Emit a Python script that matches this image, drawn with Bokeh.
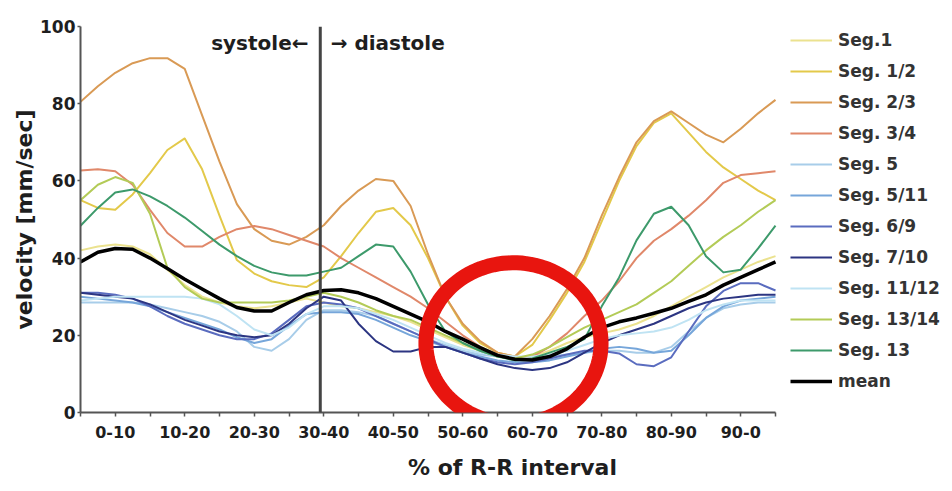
import numpy as np
from bokeh.plotting import figure
from bokeh.models import (Range1d, FixedTicker, Legend, LegendItem, Span, Label,
                          PolyAnnotation)
from bokeh.embed import file_html
from bokeh.resources import INLINE

# ---------------- data ----------------
rr_percent = [0, 2.5, 5, 7.5, 10, 12.5, 15, 17.5, 20, 22.5, 25, 27.5, 30, 32.5, 35, 37.5,
              40, 42.5, 45, 47.5, 50, 52.5, 55, 57.5, 60, 62.5, 65, 67.5, 70, 72.5, 75,
              77.5, 80, 82.5, 85, 87.5, 90, 92.5, 95, 97.5, 100]

interval_labels = ["0-10", "10-20", "20-30", "30-40", "40-50", "50-60", "60-70",
                   "70-80", "80-90", "90-0"]
velocity_ticks = [0, 20, 40, 60, 80, 100]
systole_end = 34.5

seg_1 = [42, 43, 43.5, 43, 41, 37, 33, 30, 28.5, 27.5, 27, 27.5, 28.5, 29.5, 28.5, 27.5,
         27, 26, 25, 23.5, 21.5, 19.5, 17.5, 16, 14.5, 14, 14.5, 16, 18, 19.5, 20.5,
         21.5, 23, 25, 27.5, 30, 32.5, 35, 37, 39, 40.5]
seg_1_2 = [55, 53, 52.5, 56.5, 62, 68, 71, 63, 51, 39.5, 36, 34, 33, 32.5, 35, 40.5,
           46.5, 52, 53, 48.5, 40, 30, 22.5, 18, 15.5, 14.5, 17.5, 24, 31, 39, 49.5,
           60, 69, 75, 77.5, 72.5, 67.5, 63.5, 60.5, 57.5, 55]
seg_2_3 = [80.5, 84.5, 88, 90.5, 91.8, 91.8, 89, 77, 65, 54, 47.5, 44.5, 43.5, 45.5, 48.5,
           53.5, 57.5, 60.5, 60, 53.5, 41, 30, 23, 18.5, 15.5, 14.5, 19, 25, 32, 40, 51,
           61, 70, 75.5, 78, 75, 72, 70, 73.5, 77.5, 81]
seg_3_4 = [62.7, 63, 62.5, 59, 52.5, 46.5, 43, 43, 45.5, 47.5, 48.3, 47.5, 46, 44.5, 43,
           40, 37.5, 35, 32.5, 30, 27, 23.5, 20, 17, 15, 14, 14.5, 17, 20.5, 25, 29, 34,
           40, 44.5, 47.5, 51, 55, 59.5, 61.5, 62, 62.5]
seg_5 = [28.5, 28.5, 28.5, 28.5, 28, 27, 26, 25, 23.5, 21, 17, 16, 19, 24, 26.5, 26.5,
         26, 25, 23, 21, 19, 17.5, 16, 15, 14.5, 14, 14, 14.5, 15, 15.5, 16, 16, 15.5,
         15.5, 17, 21, 24.5, 27, 28, 28.5, 28.5]
seg_5_11 = [30, 29.5, 29, 28.5, 27.5, 26, 24.5, 23, 21.5, 19.5, 18, 19, 22.5, 25.5, 26,
            26, 25.5, 24, 22, 20, 18.5, 17, 15.5, 14.5, 13.5, 13, 13, 13.5, 14.5, 15.5,
            16.5, 17, 16.5, 15.5, 16, 20, 24.5, 27.5, 29, 29.5, 30]
seg_6_9 = [31, 31, 30.5, 29.5, 27.5, 25, 23, 21.5, 20, 19, 19, 20.5, 24, 27.5, 28.5, 28,
           27, 25, 23, 21, 19, 17, 15.5, 14, 13, 12.5, 13, 14, 15, 16, 16, 15.3, 12.5,
           12, 14.3, 21, 27.5, 31.5, 33.5, 33.5, 31.6]
seg_7_10 = [31, 30.5, 30, 29.5, 28, 26, 24, 22.5, 21, 20, 19.5, 20, 23, 27, 30, 29, 23,
            18.5, 15.8, 15.8, 17, 17, 15.5, 14, 12.5, 11.5, 11, 11.5, 13, 15.5, 18, 20,
            21.5, 23, 25, 27, 28.5, 29.5, 30, 30.5, 30.5]
seg_11_12 = [29, 29.5, 30, 30, 30, 30, 30, 29.5, 28, 25, 21.5, 20, 22, 25.5, 27.5, 27.5,
             27, 25.5, 24, 22, 20, 18, 16.5, 15.5, 15, 14.5, 14.5, 15, 16, 17.5, 19, 20,
             20.5, 21, 22, 24, 26.5, 28, 29, 29, 29]
seg_13_14 = [55, 59, 61, 59.5, 51.5, 37.5, 32.5, 29.5, 28.5, 28.5, 28.5, 28.5, 29, 30, 31,
             30, 28.5, 26.5, 25, 24, 22, 20, 18, 16, 14.5, 14, 15, 17, 19.5, 22, 24, 26,
             28, 31, 34, 38, 42, 45.5, 48.5, 52, 55]
seg_13 = [48.4, 53, 57, 57.8, 56, 53.5, 50.5, 47, 43.5, 40.5, 38, 36.3, 35.5, 35.5, 36.5,
          37.5, 40.5, 43.5, 43, 36.5, 28, 21, 18, 16, 14.5, 13.5, 14, 15.5, 17, 19, 27.5,
          35, 44.6, 51.5, 53.3, 48.5, 40.5, 36.3, 37, 42.5, 48.4]
mean = [39, 41.5, 42.5, 42.3, 40, 37.3, 34.5, 32, 29.5, 27.2, 26.3, 26.3, 28.5, 30.5, 31.6,
        31.8, 31, 29.5, 27.5, 25.5, 23.5, 21, 19, 16.8, 14.8, 13.8, 13.6, 14.5, 16.5, 19.5,
        22, 23.5, 24.5, 25.7, 27, 28.8, 30.5, 33, 35, 37, 39]

series_names = ["Seg.1", "Seg. 1/2", "Seg. 2/3", "Seg. 3/4", "Seg. 5", "Seg. 5/11",
                "Seg. 6/9", "Seg. 7/10", "Seg. 11/12", "Seg. 13/14", "Seg. 13", "mean"]
series_values = [seg_1, seg_1_2, seg_2_3, seg_3_4, seg_5, seg_5_11, seg_6_9, seg_7_10,
                 seg_11_12, seg_13_14, seg_13, mean]
series_colors = ["#ebe28f", "#e3c94a", "#d99a55", "#e0886a", "#a8cde9", "#76a6da",
                 "#5a6cbf", "#2c3582", "#bfe3f3", "#b3cb57", "#3d9a6b", "#000000"]
series_widths = [2, 2, 2, 2, 2, 2, 2, 2, 2, 2, 2, 3.5]

# ---------------- figure ----------------
FONT = "DejaVu Sans"
TXT = "#1e1e1e"

W, H = 944, 483
LEFT, TOP, BOTTOM = 80, 26, 71
AXIS_PX = 695                      # pixel length of the 0-100 % axis
frame_w = W - LEFT
x_end = 100 * frame_w / AXIS_PX     # room on the right for the legend

p = figure(width=W, height=H, output_backend="svg", toolbar_location=None,
           x_range=Range1d(0, x_end), y_range=Range1d(0, 100),
           min_border_left=LEFT, min_border_right=0, min_border_top=TOP,
           min_border_bottom=BOTTOM)
p.outline_line_color = None
p.xgrid.visible = False
p.ygrid.visible = False
p.background_fill_color = "white"
p.border_fill_color = "white"

# axes
xa = p.xaxis[0]
xa.bounds = (0, 100)
xa.ticker = FixedTicker(ticks=[5 + 10 * i for i in range(len(interval_labels))],
                        minor_ticks=[10 * i for i in range(len(interval_labels) + 1)])
xa.major_label_overrides = {5 + 10 * i: lab for i, lab in enumerate(interval_labels)}
xa.axis_label = "% of R-R interval"
ya = p.yaxis[0]
ya.ticker = FixedTicker(ticks=velocity_ticks, minor_ticks=[])
ya.axis_label = "velocity [mm/sec]"

for ax in (xa, ya):
    ax.axis_line_color = "#555555"
    ax.axis_line_width = 2
    ax.major_tick_line_color = "#555555"
    ax.minor_tick_line_color = "#555555"
    ax.major_tick_line_width = 1.5
    ax.minor_tick_line_width = 1.5
    ax.major_tick_in = 0
    ax.minor_tick_in = 0
    ax.major_tick_out = 4
    ax.minor_tick_out = 4
    ax.major_label_text_font = FONT
    ax.major_label_text_font_style = "bold"
    ax.major_label_text_color = TXT
    ax.axis_label_text_font = FONT
    ax.axis_label_text_font_style = "bold"
    ax.axis_label_text_font_size = "22px"
    ax.axis_label_text_color = TXT

xa.major_label_text_font_size = "16px"
xa.major_label_standoff = 9
xa.axis_label_standoff = 14
ya.major_label_text_font_size = "17px"
ya.major_tick_out = 3
ya.major_label_standoff = 2
ya.axis_label_standoff = 0

# lines
items = []
for name, vals, col, lw in zip(series_names, series_values, series_colors, series_widths):
    r = p.line(rr_percent, vals, line_color=col, line_width=lw, line_join="round")
    items.append(LegendItem(label=name, renderers=[r]))

# systole / diastole marker
p.add_layout(Span(location=systole_end, dimension="height", line_color="#444444",
                  line_width=3))
p.add_layout(Label(x=systole_end - 1.7, y=95.6, text="systole\u2190", text_align="right",
                   text_baseline="middle", text_font=FONT, text_font_style="bold",
                   text_font_size="20px", text_color=TXT))
p.add_layout(Label(x=systole_end + 1.5, y=95.6, text="\u2192 diastole", text_align="left",
                   text_baseline="middle", text_font=FONT, text_font_style="bold",
                   text_font_size="20px", text_color=TXT))

# legend (inside the widened frame, to the right of the 0-100 % axis)
legend = Legend(items=items, location=(AXIS_PX + 15, 21), orientation="vertical",
                glyph_width=42, glyph_height=20, label_height=20, spacing=11,
                label_standoff=6, padding=0, margin=0,
                label_text_font=FONT, label_text_font_style="bold",
                label_text_font_size="17px", label_text_color="#333333",
                border_line_color=None, background_fill_alpha=0)
p.add_layout(legend)

# red highlight ring
t = np.linspace(0, 2 * np.pi, 120)
ring_x = 62.3 + 12.6 * np.cos(t)
ring_y = 17.9 + 20.9 * np.sin(t)
p.add_layout(PolyAnnotation(xs=list(ring_x), ys=list(ring_y), fill_color=None,
                            fill_alpha=0, line_color="#e8150f", line_width=15,
                            line_alpha=1, level="overlay"))

open("out.html", "w").write(file_html(p, INLINE))
